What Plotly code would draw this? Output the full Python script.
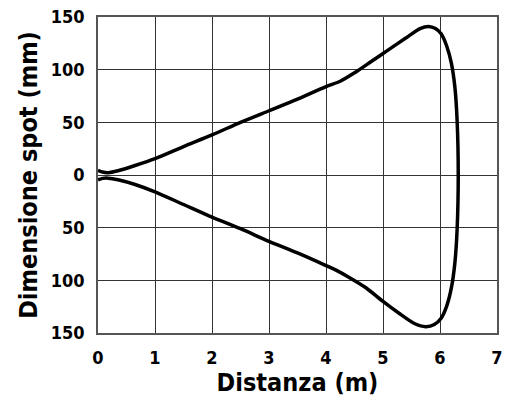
import plotly.graph_objects as go

# Upper branch of the spot profile (distance in m, half-size in mm)
dist_upper = [0, 0.08, 0.18, 0.35, 0.65, 1, 1.5, 2, 2.5, 3, 3.5, 4, 4.25, 4.5, 4.8, 5.1, 5.4, 5.65, 5.8, 5.92, 6.02, 6.12, 6.2, 6.26, 6.3, 6.32]
spot_upper = [4.5, 2.8, 2.2, 4, 9, 15.5, 27, 38, 50, 61, 72, 84, 89, 97, 108, 119, 130, 139, 141, 139, 134, 122, 106, 84, 52, 0]

# Lower branch (returning from far end back to origin)
dist_lower = [6.3, 6.26, 6.2, 6.12, 6.02, 5.9, 5.75, 5.55, 5.3, 5.0, 4.7, 4.4, 4.2, 4, 3.5, 3, 2.5, 2, 1.5, 1, 0.65, 0.35, 0.18, 0.08, 0]
spot_lower = [-52, -84, -107, -124, -136, -142, -144, -141, -132, -120, -107, -97, -91, -86, -74, -63, -51, -40, -28, -16, -9, -4.5, -3, -3.2, -4.5]

x_ticks = [0, 1, 2, 3, 4, 5, 6, 7]
y_tickvals = [-150, -100, -50, 0, 50, 100, 150]
y_ticktext = ["150", "100", "50", "0", "50", "100", "150"]

FONT = "DejaVu Sans Condensed, Liberation Sans Narrow, Arial Narrow, Liberation Sans, sans-serif"

fig = go.Figure()
fig.add_trace(go.Scatter(
    x=dist_upper + dist_lower,
    y=spot_upper + spot_lower,
    mode="lines",
    line=dict(color="black", width=3.5, shape="spline", smoothing=0.7),
    showlegend=False,
    hoverinfo="skip",
))

axis_common = dict(
    showgrid=True, gridcolor="#333", gridwidth=1,
    showline=True, linecolor="#555", linewidth=1.5, mirror=True,
    zeroline=False, ticks="", automargin=False,
    tickfont=dict(family=FONT, size=18, color="black", weight="bold"),
    title_font=dict(family=FONT, size=25, color="black", weight="bold"),
)

fig.update_layout(
    width=505, height=407,
    margin=dict(l=98, r=8, t=17, b=74),
    paper_bgcolor="white", plot_bgcolor="white",
    xaxis=dict(range=[0, 7], tickvals=x_ticks, title_text="Distanza (m)",
               title_standoff=6, ticklabelstandoff=8, **axis_common),
    yaxis=dict(range=[-150, 150], tickvals=y_tickvals, ticktext=y_ticktext,
               title_text="Dimensione spot (mm)", title_standoff=6,
               ticklabelstandoff=8, **axis_common),
)

fig.write_html("out.html", config={"displayModeBar": False},
               post_script="document.body.style.margin='0px';document.body.style.overflow='hidden';")
